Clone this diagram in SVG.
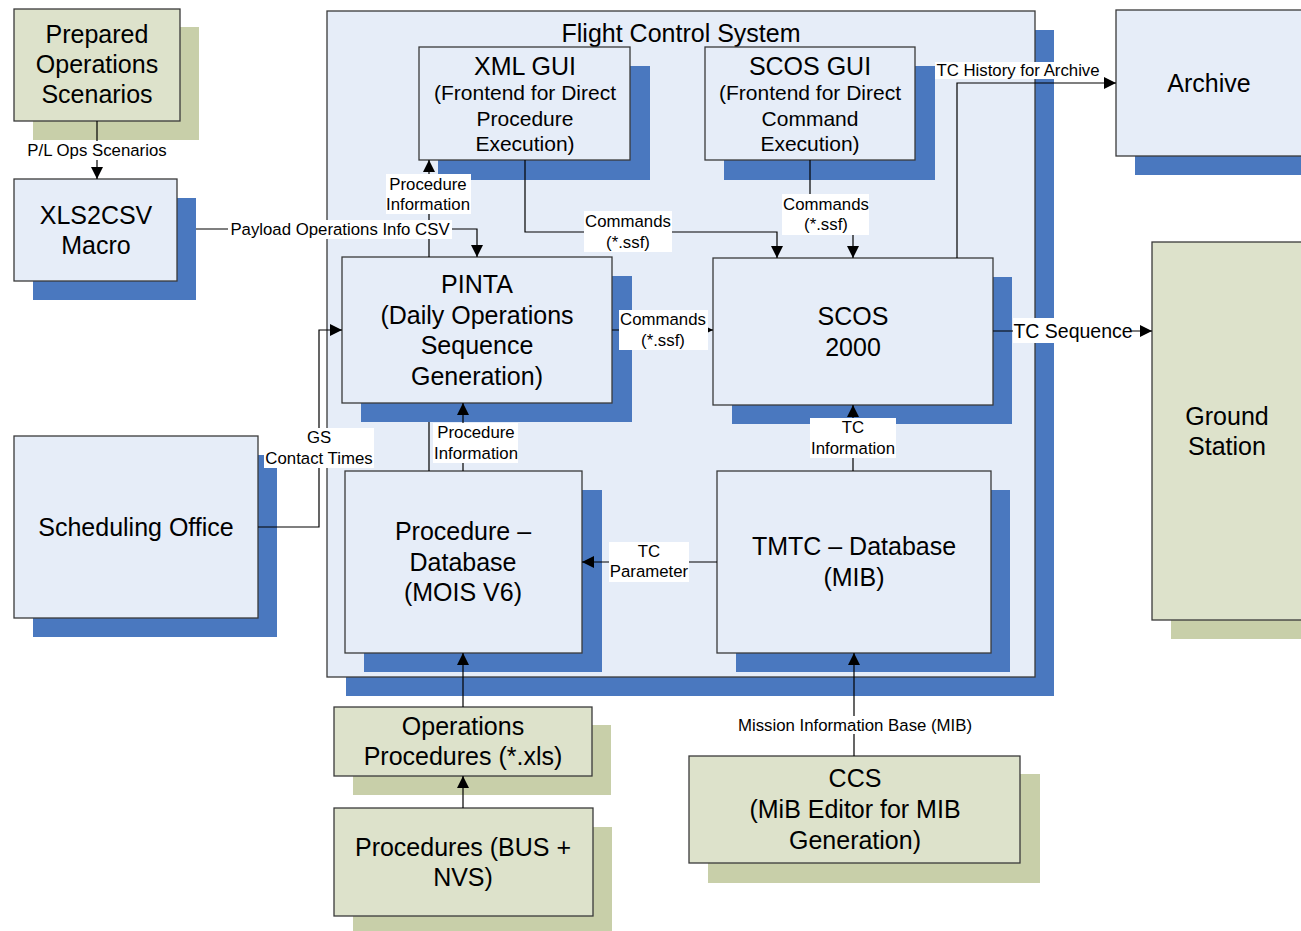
<svg xmlns="http://www.w3.org/2000/svg" width="1301" height="931" viewBox="0 0 1301 931">
<defs>
<style>
.box{fill:#E6EDF8;stroke:#3a3a3a;stroke-width:1.3}
.gbox{fill:#DDE2CB;stroke:#3a3a3a;stroke-width:1.3}
.sh{fill:#4A78BF}
.gsh{fill:#C8CFA9}
text{font-family:"Liberation Sans",Arial,sans-serif;text-anchor:middle;fill:#000}
.t{font-size:25px}
.s{font-size:21px}
.l{font-size:16.8px}
.lbg{fill:#fff}
.c{fill:none;stroke:#000;stroke-width:1.2}
</style>
<marker id="arr" markerUnits="userSpaceOnUse" markerWidth="12" markerHeight="12" viewBox="0 0 10 10" refX="10" refY="5" orient="auto">
<path d="M0,0 L10,5 L0,10 z" fill="#000"/>
</marker>
</defs>
<rect width="1301" height="931" fill="#fff"/>

<g id="fcs">
<rect class="sh" x="346" y="30" width="708" height="666"/>
<rect class="box" x="327" y="11" width="708" height="666"/>
<text class="t" x="681" y="42">Flight Control System</text>
</g>

<g id="prepared">
<rect class="gsh" x="33" y="27" width="166" height="113"/>
<rect class="gbox" x="14" y="9" width="166" height="112"/>
<text class="t" x="97" y="43">Prepared</text>
<text class="t" x="97" y="73">Operations</text>
<text class="t" x="97" y="103">Scenarios</text>
</g>

<g id="xls2csv">
<rect class="sh" x="33" y="198" width="163" height="102"/>
<rect class="box" x="14" y="179" width="163" height="102"/>
<text class="t" x="96" y="224">XLS2CSV</text>
<text class="t" x="96" y="254">Macro</text>
</g>

<g id="xmlgui">
<rect class="sh" x="438" y="66" width="212" height="114"/>
<rect class="box" x="419" y="47" width="211" height="113"/>
<text class="t" x="525" y="75">XML GUI</text>
<text class="s" x="525" y="100">(Frontend for Direct</text>
<text class="s" x="525" y="126">Procedure</text>
<text class="s" x="525" y="151">Execution)</text>
</g>

<g id="scosgui">
<rect class="sh" x="724" y="66" width="211" height="114"/>
<rect class="box" x="705" y="47" width="210" height="113"/>
<text class="t" x="810" y="75">SCOS GUI</text>
<text class="s" x="810" y="100">(Frontend for Direct</text>
<text class="s" x="810" y="126">Command</text>
<text class="s" x="810" y="151">Execution)</text>
</g>

<g id="archive">
<rect class="sh" x="1135" y="29" width="200" height="146"/>
<rect class="box" x="1116" y="10" width="200" height="146"/>
<text class="t" x="1209" y="92">Archive</text>
</g>

<g id="pinta">
<rect class="sh" x="361" y="276" width="271" height="146"/>
<rect class="box" x="342" y="257" width="270" height="146"/>
<text class="t" x="477" y="293">PINTA</text>
<text class="t" x="477" y="324">(Daily Operations</text>
<text class="t" x="477" y="354">Sequence</text>
<text class="t" x="477" y="385">Generation)</text>
</g>

<g id="scos2000">
<rect class="sh" x="732" y="277" width="280" height="147"/>
<rect class="box" x="713" y="258" width="280" height="147"/>
<text class="t" x="853" y="325">SCOS</text>
<text class="t" x="853" y="356">2000</text>
</g>

<g id="groundstation">
<rect class="gsh" x="1171" y="261" width="160" height="378"/>
<rect class="gbox" x="1152" y="242" width="160" height="378"/>
<text class="t" x="1227" y="425">Ground</text>
<text class="t" x="1227" y="455">Station</text>
</g>

<g id="scheduling">
<rect class="sh" x="33" y="455" width="244" height="182"/>
<rect class="box" x="14" y="436" width="244" height="182"/>
<text class="t" x="136" y="536">Scheduling Office</text>
</g>

<g id="procdb">
<rect class="sh" x="364" y="490" width="238" height="182"/>
<rect class="box" x="345" y="471" width="237" height="182"/>
<text class="t" x="463" y="540">Procedure –</text>
<text class="t" x="463" y="571">Database</text>
<text class="t" x="463" y="601">(MOIS V6)</text>
</g>

<g id="tmtc">
<rect class="sh" x="736" y="490" width="274" height="182"/>
<rect class="box" x="717" y="471" width="274" height="182"/>
<text class="t" x="854" y="555">TMTC – Database</text>
<text class="t" x="854" y="586">(MIB)</text>
</g>

<g id="opsproc">
<rect class="gsh" x="353" y="725" width="258" height="70"/>
<rect class="gbox" x="334" y="707" width="258" height="69"/>
<text class="t" x="463" y="735">Operations</text>
<text class="t" x="463" y="765">Procedures (*.xls)</text>
</g>

<g id="procbus">
<rect class="gsh" x="353" y="827" width="259" height="104"/>
<rect class="gbox" x="334" y="808" width="259" height="108"/>
<text class="t" x="463" y="856">Procedures (BUS +</text>
<text class="t" x="463" y="886">NVS)</text>
</g>

<g id="ccs">
<rect class="gsh" x="708" y="774" width="332" height="109"/>
<rect class="gbox" x="689" y="756" width="331" height="107"/>
<text class="t" x="855" y="787">CCS</text>
<text class="t" x="855" y="818">(MiB Editor for MIB</text>
<text class="t" x="855" y="849">Generation)</text>
</g>

<g id="connectors">
<path class="c" d="M97,121 V179" marker-end="url(#arr)"/>
<path class="c" d="M196,229 H477 V257" marker-end="url(#arr)"/>
<path class="c" d="M429,471 V422 M429,257 V160" marker-end="url(#arr)"/>
<path class="c" d="M525,160 V232 H777 V258" marker-end="url(#arr)"/>
<path class="c" d="M810,160 V214 H853 V258" marker-end="url(#arr)"/>
<path class="c" d="M957,258 V83 H1116" marker-end="url(#arr)"/>
<path class="c" d="M612,330 H713" marker-end="url(#arr)"/>
<path class="c" d="M993,331 H1152" marker-end="url(#arr)"/>
<path class="c" d="M258,527 H319 V330 H342" marker-end="url(#arr)"/>
<path class="c" d="M463,471 V403" marker-end="url(#arr)"/>
<path class="c" d="M717,562 H582" marker-end="url(#arr)"/>
<path class="c" d="M853,471 V405" marker-end="url(#arr)"/>
<path class="c" d="M463,707 V653" marker-end="url(#arr)"/>
<path class="c" d="M463,808 V776" marker-end="url(#arr)"/>
<path class="c" d="M854,756 V653" marker-end="url(#arr)"/>

<rect class="lbg" x="25" y="141" width="144" height="19"/>
<text class="l" x="97" y="156">P/L Ops Scenarios</text>
<rect class="lbg" x="228" y="220" width="224" height="19"/>
<text class="l" x="340" y="235">Payload Operations Info CSV</text>
<rect class="lbg" x="386" y="174" width="85" height="40"/>
<text class="l" x="428" y="190">Procedure</text>
<text class="l" x="428" y="210">Information</text>
<rect class="lbg" x="584" y="211" width="88" height="41"/>
<text class="l" x="628" y="227">Commands</text>
<text class="l" x="628" y="248">(*.ssf)</text>
<rect class="lbg" x="782" y="194" width="87" height="41"/>
<text class="l" x="826" y="210">Commands</text>
<text class="l" x="826" y="230">(*.ssf)</text>
<rect class="lbg" x="935" y="62" width="167" height="17"/>
<text class="l" x="1018" y="76">TC History for Archive</text>
<rect class="lbg" x="619" y="310" width="89" height="40"/>
<text class="l" x="663" y="325">Commands</text>
<text class="l" x="663" y="346">(*.ssf)</text>
<rect class="lbg" x="1013" y="318" width="118" height="25"/>
<text x="1073" y="338" style="font-size:19.5px">TC Sequence</text>
<rect class="lbg" x="264" y="428" width="110" height="40"/>
<text class="l" x="319" y="443">GS</text>
<text class="l" x="319" y="464">Contact Times</text>
<rect class="lbg" x="433" y="423" width="85" height="40"/>
<text class="l" x="476" y="438">Procedure</text>
<text class="l" x="476" y="459">Information</text>
<rect class="lbg" x="609" y="542" width="80" height="40"/>
<text class="l" x="649" y="557">TC</text>
<text class="l" x="649" y="577">Parameter</text>
<rect class="lbg" x="810" y="418" width="86" height="40"/>
<text class="l" x="853" y="433">TC</text>
<text class="l" x="853" y="454">Information</text>
<rect class="lbg" x="737" y="716" width="236" height="18"/>
<text class="l" x="855" y="731">Mission Information Base (MIB)</text>
</g>
</svg>
